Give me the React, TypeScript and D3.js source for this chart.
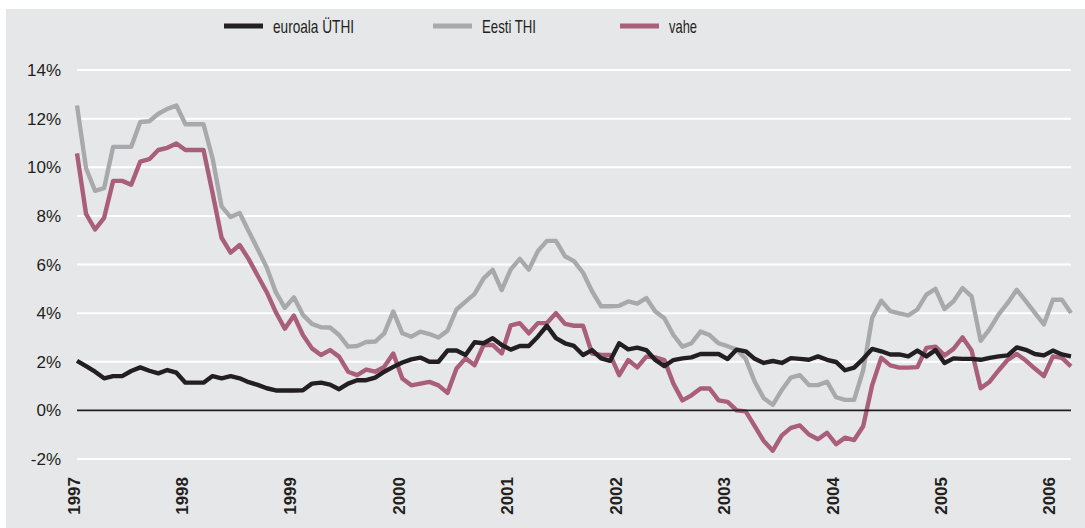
import React from "react";
import * as d3 from "d3";

const yearLabels = ["1997", "1998", "1999", "2000", "2001", "2002", "2003", "2004", "2005", "2006"];
const yTicks = [-2, 0, 2, 4, 6, 8, 10, 12, 14];

// Monthly values, Jan 1997 – Mar 2006 (%)
const euroala = [
  2.04, 1.82, 1.59, 1.32, 1.41, 1.41, 1.62, 1.77, 1.63, 1.52, 1.66, 1.55,
  1.14, 1.14, 1.14, 1.41, 1.32, 1.41, 1.32, 1.16, 1.05, 0.91, 0.82, 0.82,
  0.82, 0.83, 1.10, 1.14, 1.06, 0.87, 1.10, 1.24, 1.24, 1.35, 1.59, 1.79,
  1.97, 2.10, 2.17, 2.0, 2.0, 2.46, 2.46, 2.28, 2.80, 2.76, 2.97, 2.69,
  2.50, 2.65, 2.65, 3.03, 3.48, 2.97, 2.76, 2.65, 2.28, 2.48, 2.14, 2.04,
  2.76, 2.51, 2.58, 2.48, 2.07, 1.82, 2.07, 2.14, 2.18, 2.32, 2.32, 2.32,
  2.11, 2.50, 2.43, 2.12, 1.95, 2.03, 1.95, 2.15, 2.12, 2.08, 2.22, 2.08,
  1.99, 1.65, 1.76, 2.12, 2.53, 2.43, 2.30, 2.30, 2.22, 2.46, 2.22, 2.48,
  1.95, 2.14, 2.12, 2.12, 2.08, 2.16, 2.22, 2.26, 2.59, 2.49, 2.32, 2.26,
  2.46, 2.30, 2.22,
];

const eesti = [
  12.54, 9.96, 9.03, 9.14, 10.84, 10.84, 10.84, 11.86, 11.89, 12.2, 12.4, 12.54,
  11.77, 11.77, 11.77, 10.37, 8.39, 7.95, 8.12, 7.37, 6.63, 5.88, 4.86, 4.22,
  4.65, 3.93, 3.56, 3.42, 3.41, 3.10, 2.62, 2.65, 2.81, 2.83, 3.17, 4.07,
  3.17, 3.03, 3.24, 3.14, 3.0, 3.28, 4.15, 4.47, 4.79, 5.43, 5.78, 4.95,
  5.8, 6.23, 5.79, 6.55, 6.97, 6.97, 6.34, 6.14, 5.66, 4.90, 4.28, 4.28,
  4.30, 4.48, 4.39, 4.62, 4.07, 3.79, 3.10, 2.62, 2.76, 3.24, 3.10, 2.76,
  2.64, 2.50, 2.12, 1.18, 0.5, 0.23, 0.84, 1.35, 1.45, 1.04, 1.04, 1.18,
  0.54, 0.43, 0.43, 1.65, 3.81, 4.51, 4.08, 3.99, 3.91, 4.15, 4.76, 5.0,
  4.17, 4.49, 5.03, 4.69, 2.86, 3.34, 3.95, 4.42, 4.96, 4.49, 4.01, 3.54,
  4.55, 4.55, 4.01,
];

const vahe = [
  10.57, 8.08, 7.44, 7.92, 9.44, 9.44, 9.28, 10.23, 10.33, 10.71, 10.80, 10.98,
  10.71, 10.71, 10.71, 8.94, 7.10, 6.49, 6.80, 6.22, 5.54, 4.86, 4.04, 3.36,
  3.90, 3.10, 2.55, 2.28, 2.48, 2.21, 1.59, 1.45, 1.68, 1.59, 1.79, 2.34,
  1.31, 1.03, 1.10, 1.17, 1.03, 0.72, 1.72, 2.14, 1.86, 2.69, 2.69, 2.34,
  3.50, 3.59, 3.17, 3.59, 3.59, 4.0, 3.56, 3.48, 3.48, 2.34, 2.28, 2.28,
  1.45, 2.07, 1.77, 2.21, 2.18, 2.07, 1.10, 0.41, 0.62, 0.90, 0.90, 0.41,
  0.35, 0.0, -0.04, -0.65, -1.26, -1.66, -1.03, -0.72, -0.62, -0.99, -1.19, -0.92,
  -1.39, -1.12, -1.22, -0.65, 1.04, 2.16, 1.85, 1.76, 1.76, 1.78, 2.57, 2.62,
  2.26, 2.53, 3.0, 2.46, 0.91, 1.18, 1.65, 2.08, 2.32, 2.05, 1.72, 1.41,
  2.22, 2.16, 1.81,
];

const series = [
  { name: "euroala ÜTHI", values: euroala, color: "#231f20" },
  { name: "Eesti THI", values: eesti, color: "#a7a9ac" },
  { name: "vahe", values: vahe, color: "#a95e7b" },
];

const legendX = [224, 433, 620];
const legendW = [81, 54, 28];

export default function App() {
  const n = euroala.length;
  const x = d3.scaleLinear().domain([0, n - 1]).range([77, 1071]);
  const y = d3.scaleLinear().domain([-2, 14]).range([459, 70]);
  const line = d3
    .line<number>()
    .x((_, i) => x(i))
    .y((d) => y(d));

  const drawOrder = [1, 2, 0];

  return (
    <svg
      width={1085}
      height={528}
      style={{ position: "absolute", left: 0, top: 0 }}
      fontFamily="'Liberation Sans', Arial, sans-serif"
    >
      <rect x={6} y={9} width={1079} height={519} fill="#e6e7e8" />
      {yTicks.map((t) => (
        <g key={t}>
          {t !== 0 && (
            <line x1={77} x2={1071} y1={y(t)} y2={y(t)} stroke="#ffffff" strokeWidth={2} />
          )}
          <text
            x={61}
            y={y(t)}
            dy="0.36em"
            textAnchor="end"
            fontSize={17}
            fill="#231f20"
          >
            {`${t}%`}
          </text>
        </g>
      ))}
      {drawOrder.map((k) => (
        <path
          key={series[k].name}
          d={line(series[k].values) || ""}
          fill="none"
          stroke={series[k].color}
          strokeWidth={4.4}
          strokeLinejoin="round"
        />
      ))}
      <line x1={77} x2={1071} y1={y(0)} y2={y(0)} stroke="#231f20" strokeWidth={1.6} />
      {yearLabels.map((lab, k) => {
        const xx = x(k * 12) + 2.5;
        return (
          <text
            key={lab}
            transform={`translate(${xx},477) rotate(-90)`}
            textAnchor="end"
            fontSize={17}
            fontWeight="bold"
            fill="#231f20"
          >
            {lab}
          </text>
        );
      })}
      {series.map((s, k) => (
        <g key={s.name}>
          <line
            x1={legendX[k]}
            x2={legendX[k] + 39}
            y1={26}
            y2={26}
            stroke={s.color}
            strokeWidth={5}
          />
          <text
            x={legendX[k] + 49}
            y={26}
            dy="0.36em"
            fontSize={18.5}
            fill="#231f20"
            fontFamily="'Liberation Sans Narrow', 'Liberation Sans', Arial, sans-serif"
            textLength={legendW[k]}
            lengthAdjust="spacingAndGlyphs"
          >
            {s.name}
          </text>
        </g>
      ))}
    </svg>
  );
}
